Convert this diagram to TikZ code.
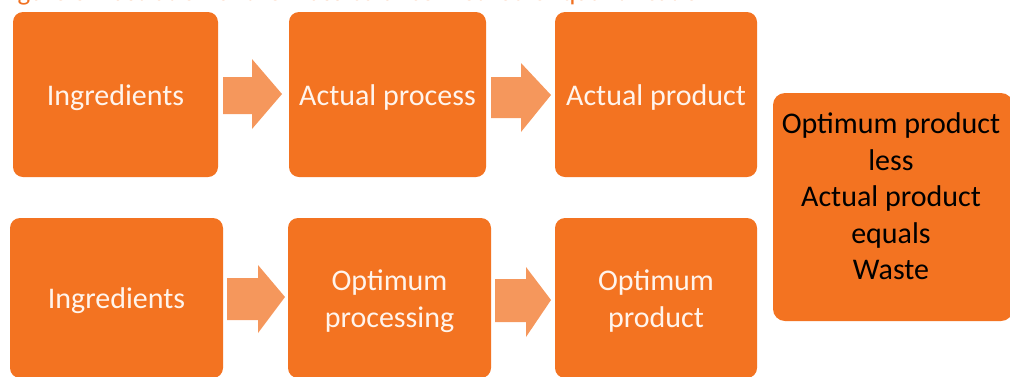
\documentclass[tikz,border=0pt]{standalone}
\usepackage{fontspec}
\setmainfont{Carlito}
\definecolor{boxor}{HTML}{F37321}
\definecolor{arrowor}{HTML}{F5975C}
\definecolor{boxtxt}{HTML}{FFF4EC}
\definecolor{capor}{HTML}{F07020}
\newcommand{\blockarrow}[8]{%
  \fill[arrowfill] (#1,#4) -- (#2,#4) -- (#2,#6) -- (#3,#8) -- (#2,#7) -- (#2,#5) -- (#1,#5) -- cycle;}
\begin{document}
\begin{tikzpicture}[x=1pt,y=-1pt,
  stepbox/.style={fill=boxor, rounded corners=10pt, inner sep=0pt},
  steptext/.style={align=center, inner sep=0pt, text=boxtxt, font=\fontsize{30}{37}\selectfont, yshift=-3.5pt},
  resultbox/.style={fill=boxor, rounded corners=12pt, inner sep=0pt},
  resulttext/.style={align=center, text=black, font=\fontsize{30}{36.5}\selectfont, inner sep=0pt},
  arrowfill/.style={fill=arrowor}]
\useasboundingbox (0,0) rectangle (1010,376);
\clip (0,0) rectangle (1010,376);
% caption (cut off at top, as in the original)
\node[anchor=base west, inner sep=0pt, text=capor] (cap) at (-1,0)
  {\resizebox{714pt}{!}{\fontsize{22}{26}\selectfont Figure 3 Illustration of the mass balance method of quantification}};
% top row
\node[stepbox, minimum width=205pt, minimum height=165pt] (ing1) at (115.5,94.5) {};
\node[stepbox, minimum width=197pt, minimum height=165pt] (act) at (387.5,94.5) {};
\node[stepbox, minimum width=202pt, minimum height=165pt] (actp) at (656,94.5) {};
\node[steptext] (ing1t) at (ing1) {\strut Ingredients};
\node[steptext] (actt) at (act) {\strut Actual process};
\node[steptext] (actpt) at (actp) {\strut Actual product};
% bottom row
\node[stepbox, minimum width=213pt, minimum height=160pt] (ing2) at (116.5,298) {};
\node[stepbox, minimum width=203pt, minimum height=160pt] (opt) at (389.5,298) {};
\node[stepbox, minimum width=202pt, minimum height=160pt] (optp) at (656,298) {};
\node[steptext] (ing2t) at (ing2) {\strut Ingredients};
\node[steptext] (optt) at (opt) {\strut Optimum\\\strut processing};
\node[steptext] (optpt) at (optp) {\strut Optimum\\\strut product};
% result box
\node[resultbox, minimum width=240pt, minimum height=228pt] (res) at (893,207) {};
\node[resulttext] (restext) at (891,199.5) {\strut Optimum product\\\strut less\\\strut Actual product\\\strut equals\\\strut Waste};
% block arrows
\blockarrow{223}{252}{282}{77}{114}{59}{129}{94}
\blockarrow{491}{521}{551}{77}{118}{63}{132}{95}
\blockarrow{227}{258}{285}{278}{320}{265}{333}{297}
\blockarrow{495}{526}{551}{279}{322}{267}{337}{300}
\end{tikzpicture}
\end{document}
